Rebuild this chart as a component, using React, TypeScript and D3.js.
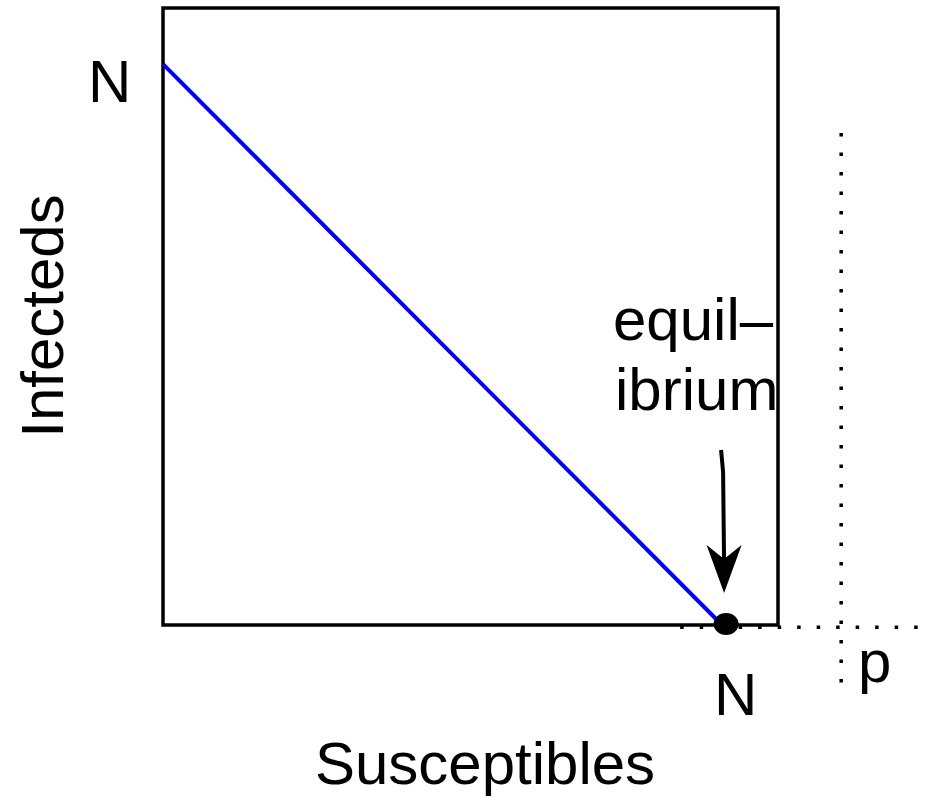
import React from "react";
import * as d3 from "d3";

// Data (in units of N)
const nullclineS = [0, 1];
const nullclineI = [1, 0];
const equilibriumS = [1];
const equilibriumI = [0];
const axisTickLabel = ["N"];
const xTitle = "Susceptibles";
const yTitle = "Infecteds";
const annotationLines = ["equil–", "ibrium"];
const pLabel = "p";

const W = 928;
const H = 798;
const FONT = "'Liberation Sans', Arial, Helvetica, sans-serif";

export default function App() {
  const x = d3.scaleLinear().domain([0, 1.1]).range([163, 778]);
  const y = d3.scaleLinear().domain([0, 1.1]).range([625, 8]);

  const pts: [number, number][] = nullclineS.map((s, i) => [s, nullclineI[i]]);
  const line = d3
    .line<[number, number]>()
    .x((d) => x(d[0]))
    .y((d) => y(d[1]));

  const eqX = x(equilibriumS[0]);
  const eqY = y(equilibriumI[0]);

  // arrow (data coords)
  const arrowTop = { s: 0.9982, i: 0.312 };
  const tipY = y(0.057);
  const tipX = eqX + 2;
  const arrowTopX = x(arrowTop.s);
  const arrowTopY = y(arrowTop.i);
  const headTopY = tipY - 48;
  const notchY = tipY - 34;

  // dotted "p" axes
  const pX = x(1.213);
  const vTop = y(0.877);
  const vBot = y(-0.125);
  const hY = y(-0.004);
  const hLeft = x(0.925);
  const hRight = x(1.36);

  return (
    <svg
      width={W}
      height={H}
      style={{ position: "absolute", left: 0, top: 0, background: "#fff" }}
      fontFamily={FONT}
    >
      <rect x={0} y={0} width={W} height={H} fill="#fff" />
      {/* dotted lines */}
      <line
        x1={pX}
        x2={pX}
        y1={vTop}
        y2={vBot}
        stroke="#000"
        strokeWidth={3.5}
        strokeDasharray="3.5 16"
      />
      <line
        x1={hLeft}
        x2={hRight}
        y1={hY}
        y2={hY}
        stroke="#000"
        strokeWidth={3.5}
        strokeDasharray="3.5 16"
      />
      {/* frame */}
      <rect
        x={x(0)}
        y={y(1.1)}
        width={x(1.1) - x(0)}
        height={y(0) - y(1.1)}
        fill="none"
        stroke="#000"
        strokeWidth={3.5}
      />
      {/* S + I = N line */}
      <path d={line(pts) || ""} fill="none" stroke="#0000ff" strokeWidth={4} />
      {/* equilibrium point */}
      <ellipse cx={eqX + 4} cy={eqY - 1} rx={12.5} ry={11} fill="#000" />
      {/* arrow */}
      <path
        d={`M${arrowTopX},${arrowTopY} L${tipX - 1},${arrowTopY + 22} L${tipX},${notchY + 4}`}
        fill="none"
        stroke="#000"
        strokeWidth={4}
      />
      <path
        d={`M${tipX},${tipY} L${tipX - 17.5},${headTopY} L${tipX},${notchY} L${tipX + 17.5},${headTopY} Z`}
        fill="#000"
      />
      {/* tick labels */}
      <text x={88} y={102} fontSize={60} fill="#000">
        {axisTickLabel[0]}
      </text>
      <text x={x(1) - 8} y={715} fontSize={60} fill="#000">
        {axisTickLabel[0]}
      </text>
      <text x={858} y={682} fontSize={60} fill="#000">
        {pLabel}
      </text>
      {/* annotation */}
      <text x={613} y={340} fontSize={60} fill="#000">
        {annotationLines[0]}
      </text>
      <text x={615} y={410} fontSize={60} fill="#000">
        {annotationLines[1]}
      </text>
      {/* axis titles */}
      <text x={485} y={784} fontSize={60} textAnchor="middle" fill="#000">
        {xTitle}
      </text>
      <text
        transform={`translate(63,316) rotate(-90)`}
        fontSize={60}
        textAnchor="middle"
        fill="#000"
      >
        {yTitle}
      </text>
    </svg>
  );
}
